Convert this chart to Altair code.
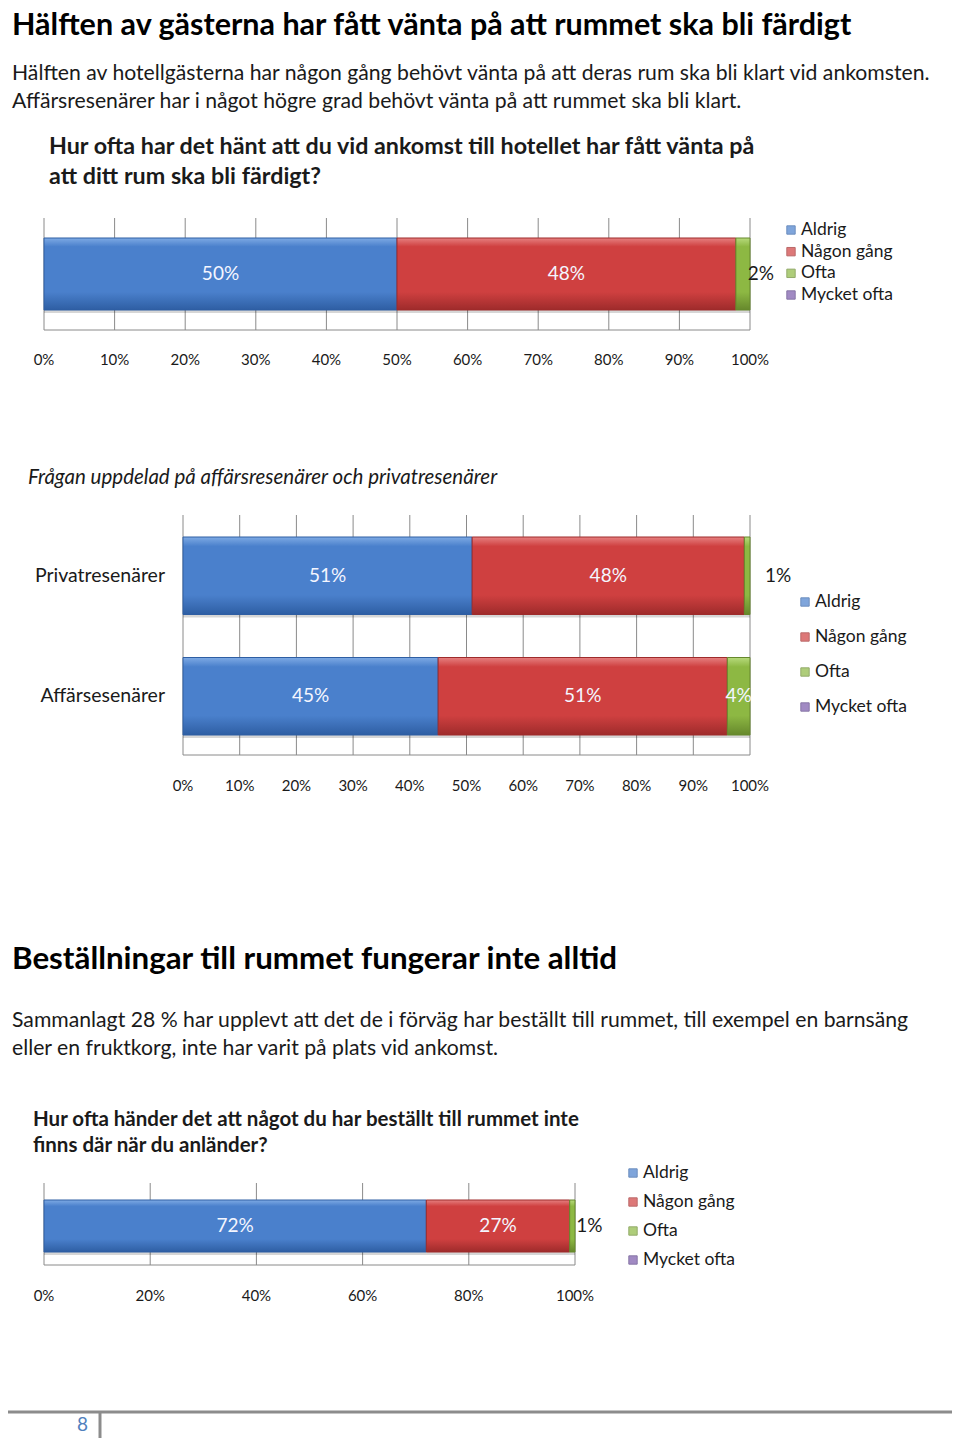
import altair as alt
import pandas as pd

FONT = "Lato"

# ---------------- texts ----------------
TITLE_1 = "Hälften av gästerna har fått vänta på att rummet ska bli färdigt"
PARA_1 = ["Hälften av hotellgästerna har någon gång behövt vänta på att deras rum ska bli klart vid ankomsten.",
          "Affärsresenärer har i något högre grad behövt vänta på att rummet ska bli klart."]
QUESTION_1 = ["Hur ofta har det hänt att du vid ankomst till hotellet har fått vänta på",
              "att ditt rum ska bli färdigt?"]
SUBTITLE_2 = "Frågan uppdelad på affärsresenärer och privatresenärer"
TITLE_2 = "Beställningar till rummet fungerar inte alltid"
PARA_2 = ["Sammanlagt 28 % har upplevt att det de i förväg har beställt till rummet, till exempel en barnsäng",
          "eller en fruktkorg, inte har varit på plats vid ankomst."]
QUESTION_3 = ["Hur ofta händer det att något du har beställt till rummet inte",
              "finns där när du anländer?"]
PAGE_NUMBER = "8"

# ---------------- data ----------------
CATS = ["Aldrig", "Någon gång", "Ofta", "Mycket ofta"]

Q1_GROUPS = ["Alla"]
Q1_VALUES = [50, 48, 2, 0]
Q1_TICKS = [0, 10, 20, 30, 40, 50, 60, 70, 80, 90, 100]

Q2_GROUPS = ["Privatresenärer", "Affärsesenärer"]
Q2_PRIVAT = [51, 48, 1, 0]
Q2_AFFARS = [45, 51, 4, 0]
Q2_TICKS = [0, 10, 20, 30, 40, 50, 60, 70, 80, 90, 100]

Q3_GROUPS = ["Alla"]
Q3_VALUES = [72, 27, 1, 0]
Q3_TICKS = [0, 20, 40, 60, 80, 100]

# ---------------- styles ----------------
COLORS = ["#4A80CC", "#CF4040", "#8DB843", "#7A5AAB"]
LIGHT = ["#7EAAE4", "#E68080", "#B7DA7C", "#A68CD1"]
DARK = ["#2E5EA3", "#9E2B2B", "#66882C", "#553C80"]
GRID = "#8A8A8A"
TXT = "#1A1A1A"


def frame(groups, series):
    rows = []
    for g, vals in zip(groups, series):
        for i, (c, v) in enumerate(zip(CATS, vals)):
            rows.append({"group": g, "cat": c, "idx": i, "value": v})
    return pd.DataFrame(rows)


def text(s, x, y, size, weight="normal", style="normal", color=TXT, align="left", baseline="middle"):
    return alt.Chart(pd.DataFrame({"t": [s]})).mark_text(
        align=align, baseline=baseline, font=FONT, fontSize=size,
        fontWeight=weight, fontStyle=style, color=color
    ).encode(x=alt.value(x), y=alt.value(y), text="t:N")


cscale = alt.Scale(domain=CATS, range=COLORS)
sscale = alt.Scale(domain=CATS, range=DARK)


def grad(i):
    return alt.Gradient(
        gradient="linear", x1=0, x2=0, y1=0, y2=1,
        stops=[alt.GradientStop(color=LIGHT[i], offset=0),
               alt.GradientStop(color=COLORS[i], offset=0.12),
               alt.GradientStop(color=COLORS[i], offset=0.75),
               alt.GradientStop(color=DARK[i], offset=1)])


def section(df, groups, xrange, yrange, pad, grid_y, ticks, tick_y, out_dx,
            leg_x, leg_y, label_size=19, tick_size=15, show_groups=False):
    xs = alt.Scale(domain=[0, 100], range=xrange, nice=False, zero=False)
    ys = alt.Scale(type="band", domain=groups, range=yrange, paddingInner=pad, paddingOuter=0)
    base = alt.Chart(df).transform_filter("datum.value > 0").transform_stack(
        stack="value", as_=["v0", "v1"], groupby=["group"],
        sort=[alt.SortField("idx", order="ascending")]
    ).transform_calculate(mid="(datum.v0 + datum.v1) / 2", lab="datum.value + '%'")
    layers = []
    # grid
    layers.append(alt.Chart(pd.DataFrame({"tick": ticks})).mark_rule(color=GRID, strokeWidth=1).encode(
        x=alt.X("tick:Q", scale=xs, axis=None), y=alt.value(grid_y[0]), y2=alt.value(grid_y[1])))
    layers.append(alt.Chart(pd.DataFrame({"tick": [ticks[0]], "end": [ticks[-1]]})).mark_rule(color=GRID, strokeWidth=1).encode(
        x=alt.X("tick:Q", scale=xs, axis=None), x2="end:Q", y=alt.value(grid_y[1])))
    # shadow
    layers.append(base.mark_bar(color="#000000", opacity=0.16, yOffset=3, y2Offset=6).encode(
        x=alt.X("v0:Q", scale=xs, axis=None), x2="v1:Q",
        y=alt.Y("group:N", scale=ys, axis=None)))
    # bars, one layer per category for the bevel gradient
    for i in range(len(CATS)):
        layers.append(base.transform_filter(f"datum.idx == {i}").mark_bar(
            color=grad(i), stroke=DARK[i], strokeWidth=1).encode(
            x=alt.X("v0:Q", scale=xs, axis=None), x2="v1:Q",
            y=alt.Y("group:N", scale=ys, axis=None)))
    # labels inside
    layers.append(base.transform_filter("datum.value >= 3").mark_text(
        font=FONT, fontSize=label_size, color="#F4F6FF", baseline="middle").encode(
        x=alt.X("mid:Q", scale=xs, axis=None), y=alt.Y("group:N", scale=ys, axis=None), text="lab:N"))
    # labels outside
    layers.append(base.transform_filter("datum.value < 3").mark_text(
        font=FONT, fontSize=label_size, color=TXT, baseline="middle", dx=out_dx).encode(
        x=alt.X("mid:Q", scale=xs, axis=None), y=alt.Y("group:N", scale=ys, axis=None), text="lab:N"))
    # tick labels
    tdf = pd.DataFrame({"tick": ticks})
    layers.append(alt.Chart(tdf).transform_calculate(lab="datum.tick + '%'").mark_text(
        font=FONT, fontSize=tick_size, color=TXT, baseline="middle").encode(
        x=alt.X("tick:Q", scale=xs, axis=None), y=alt.value(tick_y), text="lab:N"))
    # group labels
    if show_groups:
        layers.append(alt.Chart(pd.DataFrame({"group": groups})).mark_text(
            font=FONT, fontSize=19.5, color=TXT, align="right", baseline="middle").encode(
            x=alt.value(xrange[0] - 18), y=alt.Y("group:N", scale=ys, axis=None), text="group:N"))
    # legend
    ldf = pd.DataFrame({"cat": CATS})
    lys = alt.Scale(type="point", domain=CATS, range=leg_y, padding=0)
    layers.append(alt.Chart(ldf).mark_square(size=70, strokeWidth=1).encode(
        x=alt.value(leg_x), y=alt.Y("cat:N", scale=lys, axis=None),
        color=alt.Color("cat:N", scale=cscale, legend=None),
        stroke=alt.Stroke("cat:N", scale=sscale, legend=None)))
    layers.append(alt.Chart(ldf).mark_text(font=FONT, fontSize=17.5, color=TXT, align="left", baseline="middle").encode(
        x=alt.value(leg_x + 10), y=alt.Y("cat:N", scale=lys, axis=None), text="cat:N"))
    return layers


layers = []
# header texts
layers.append(text(TITLE_1, 4, 3, 30.5, weight="bold", baseline="top", color="#000000"))
layers.append(text(PARA_1[0], 4, 66, 21.2))
layers.append(text(PARA_1[1], 4, 94, 21.2))
layers.append(text(QUESTION_1[0], 41, 139, 23.3, weight="bold"))
layers.append(text(QUESTION_1[1], 41, 169, 23.3, weight="bold"))

# chart 1
layers += section(frame(Q1_GROUPS, [Q1_VALUES]), Q1_GROUPS, [36, 742], [230, 302], 0.0,
                  [210, 322], Q1_TICKS, 352, 18, 783, [222, 287])

layers.append(text(SUBTITLE_2, 20, 470, 20.5, style="italic"))

# chart 2
layers += section(frame(Q2_GROUPS, [Q2_PRIVAT, Q2_AFFARS]), Q2_GROUPS, [175, 742], [529, 727], 0.357,
                  [507, 747], Q2_TICKS, 778, 31, 797, [594, 699], show_groups=True)

layers.append(text(TITLE_2, 4, 952, 31.3, weight="bold", color="#000000"))
layers.append(text(PARA_2[0], 4, 1013, 21.2))
layers.append(text(PARA_2[1], 4, 1041, 21.2))
layers.append(text(QUESTION_3[0], 25, 1112, 20.5, weight="bold"))
layers.append(text(QUESTION_3[1], 25, 1138, 20.5, weight="bold"))

# chart 3
layers += section(frame(Q3_GROUPS, [Q3_VALUES]), Q3_GROUPS, [36, 567], [1192, 1244], 0.0,
                  [1175, 1257], Q3_TICKS, 1288, 17, 625, [1165, 1252])

# footer
layers.append(alt.Chart(pd.DataFrame({"a": [0]})).mark_rule(color="#8C8C8C", strokeWidth=3).encode(
    x=alt.value(0), x2=alt.value(944), y=alt.value(1404)))
layers.append(alt.Chart(pd.DataFrame({"a": [0]})).mark_rule(color="#8C8C8C", strokeWidth=3).encode(
    x=alt.value(92), y=alt.value(1404), y2=alt.value(1430)))
layers.append(text(PAGE_NUMBER, 80, 1417, 19, color="#4F81BD", align="right"))

chart = alt.layer(*layers).resolve_scale(
    x="independent", y="independent", color="independent", stroke="independent"
).properties(
    width=944, height=1430, padding=0, autosize=alt.AutoSizeParams(type="none")
).configure_view(stroke=None)

chart.save("out.html", embed_options={"renderer": "svg", "actions": False})
